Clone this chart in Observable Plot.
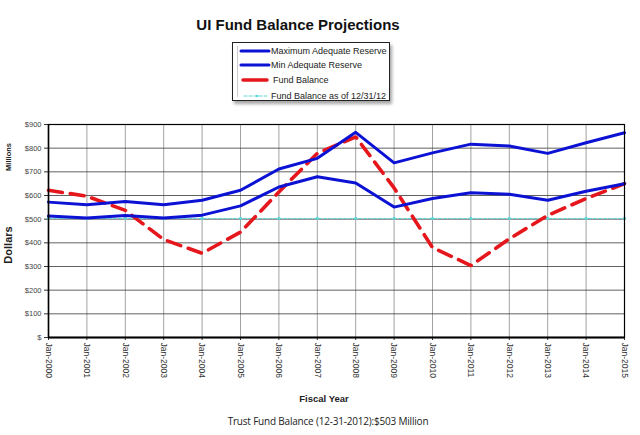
<!DOCTYPE html>
<html>
<head>
<meta charset="utf-8">
<script src="https://cdn.jsdelivr.net/npm/d3@7"></script>
<script src="https://cdn.jsdelivr.net/npm/@observablehq/plot@0.6"></script>
<style>
  html, body { margin: 0; padding: 0; background: #fff; }
  #wrap { position: relative; width: 640px; height: 435px; font-family: "Liberation Sans", Arial, sans-serif; }
  #title { position: absolute; left: 0; top: 16px; width: 596px; text-align: center; font-weight: bold; font-size: 15px; color: #111; }
  #legend { position: absolute; left: 232px; top: 42px; width: 158px; height: 59px; border: 1px solid #222; background: #fff; box-shadow: 2px 3px 3px rgba(0,0,0,0.35); box-sizing: border-box; }
  #legend .inner { position: absolute; left: 4px; top: 3px; bottom: 3px; width: 1px; background: #ccc; }
  .row { position: absolute; left: 0; height: 12px; font-size: 9px; color: #222; line-height: 12px; white-space: nowrap; }
  .row svg { position: absolute; left: 0; top: 0; }
  .row span { position: absolute; top: 0; }
  #caption { position: absolute; left: 0; top: 414px; width: 656px; text-align: center; font-family: "Open Sans", sans-serif; font-size: 10px; color: #222; letter-spacing: -0.2px; }
  #xlabel { position: absolute; left: 0; top: 393px; width: 648px; text-align: center; font-weight: bold; font-size: 9.5px; color: #222; }
</style>
</head>
<body>
<div id="wrap"></div>
<script>
const years = [2000,2001,2002,2003,2004,2005,2006,2007,2008,2009,2010,2011,2012,2013,2014,2015];
const maxReserve = [572,561,575,561,580,622,712,757,867,738,780,817,809,778,823,865];
const minReserve = [513,505,515,505,517,556,636,679,653,551,587,612,605,580,618,650];
const fundBalance = [622,597,537,414,356,445,615,778,848,632,380,304,417,516,587,650];
const balance1231 = 503;
const yTicks = [0,100,200,300,400,500,600,700,800,900];

const maxData = years.map((y,i) => ({year: y, value: maxReserve[i]}));
const minData = years.map((y,i) => ({year: y, value: minReserve[i]}));
const fundData = years.map((y,i) => ({year: y, value: fundBalance[i]}));
const balData = years.map(y => ({year: y, value: balance1231}));

const blue = "#0c12d4";
const red = "#e5161c";
const cyan = "#5ed6d6";
const xFmt = d => "Jan-" + d;
const yFmt = d => d === 0 ? "$" : "$" + d;

const chart = Plot.plot({
  width: 640,
  height: 435,
  marginTop: 124,
  marginBottom: 98,
  marginLeft: 48,
  marginRight: 16,
  style: {fontFamily: "Liberation Sans, Arial, sans-serif", fontSize: "7.5px", color: "#333", background: "white"},
  x: {domain: [2000, 2015]},
  y: {domain: [0, 900]},
  marks: [
    Plot.gridX(years, {x: d => d, stroke: "#8a8a8a", strokeOpacity: 1, strokeWidth: 0.8}),
    Plot.gridY(yTicks, {y: d => d, stroke: "#3a3a3a", strokeOpacity: 1, strokeWidth: 0.8}),
    Plot.axisY(yTicks, {tickSize: 4, tickPadding: 3, label: null, fill: "#444", fontSize: 7.5, tickFormat: yFmt}),
    Plot.axisX(years, {tickSize: 3, tickPadding: 2, tickRotate: 90, label: null, fill: "#333", fontSize: 8.5, tickFormat: xFmt}),
    Plot.line(balData, {x: "year", y: "value", stroke: cyan, strokeWidth: 1, strokeDasharray: "3,2"}),
    Plot.dot(balData, {x: "year", y: "value", fill: cyan, r: 1.6}),
    Plot.line(fundData, {x: "year", y: "value", stroke: red, strokeWidth: 3.6, strokeDasharray: "14,8", strokeLinejoin: "miter"}),
    Plot.line(maxData, {x: "year", y: "value", stroke: blue, strokeWidth: 3}),
    Plot.line(minData, {x: "year", y: "value", stroke: blue, strokeWidth: 3}),
    Plot.frame({stroke: "#000", strokeWidth: 1.2}),
    Plot.ruleY([0], {stroke: "#000", strokeWidth: 2}),
    Plot.ruleX([2000], {stroke: "#000", strokeWidth: 1.5})
  ]
});

const wrap = document.getElementById("wrap");
wrap.appendChild(chart);

const svg = d3.select(chart);
svg.append("text").attr("transform", "translate(11,157) rotate(-90)")
  .attr("text-anchor", "middle").attr("font-weight", "bold").attr("font-size", "7.5px").attr("fill", "#222").text("Millions");
svg.append("text").attr("transform", "translate(12,245) rotate(-90)")
  .attr("text-anchor", "middle").attr("font-weight", "bold").attr("font-size", "11px").attr("fill", "#222").text("Dollars");

function el(tag, attrs) { const e = document.createElement(tag); Object.assign(e, attrs); return e; }

const title = el("div", {id: "title"}); title.textContent = "UI Fund Balance Projections"; wrap.appendChild(title);

const legend = el("div", {id: "legend"});
legend.appendChild(el("div", {className: "inner"}));
const entries = [
  {label: "Maximum Adequate Reserve", color: blue, w: 3, dash: null, x1: 8, x2: 36, tx: 38},
  {label: "Min Adequate Reserve", color: blue, w: 3, dash: null, x1: 8, x2: 36, tx: 38},
  {label: "Fund Balance", color: red, w: 3.5, dash: null, x1: 10, x2: 34, tx: 40},
  {label: "Fund Balance as of 12/31/12", color: cyan, w: 1, dash: "3,2", x1: 11, x2: 36, tx: 38}
];
const rowTops = [2, 16, 31, 47];
entries.forEach((e, i) => {
  const row = el("div", {className: "row"});
  row.style.top = rowTops[i] + "px";
  row.style.width = "156px";
  const s = d3.create("svg").attr("width", 40).attr("height", 12);
  s.append("line").attr("x1", e.x1).attr("x2", e.x2).attr("y1", 6).attr("y2", 6)
    .attr("stroke", e.color).attr("stroke-width", e.w).attr("stroke-linecap", "round")
    .attr("stroke-dasharray", e.dash);
  if (e.dash) s.append("circle").attr("cx", 24).attr("cy", 6).attr("r", 1.3).attr("fill", e.color);
  row.appendChild(s.node());
  const sp = el("span"); sp.textContent = e.label; sp.style.left = e.tx + "px";
  row.appendChild(sp);
  legend.appendChild(row);
});
wrap.appendChild(legend);

const xl = el("div", {id: "xlabel"}); xl.textContent = "Fiscal Year"; wrap.appendChild(xl);
const cap = el("div", {id: "caption"}); cap.textContent = "Trust Fund Balance (12-31-2012):$503 Million"; wrap.appendChild(cap);
</script>
</body>
</html>
